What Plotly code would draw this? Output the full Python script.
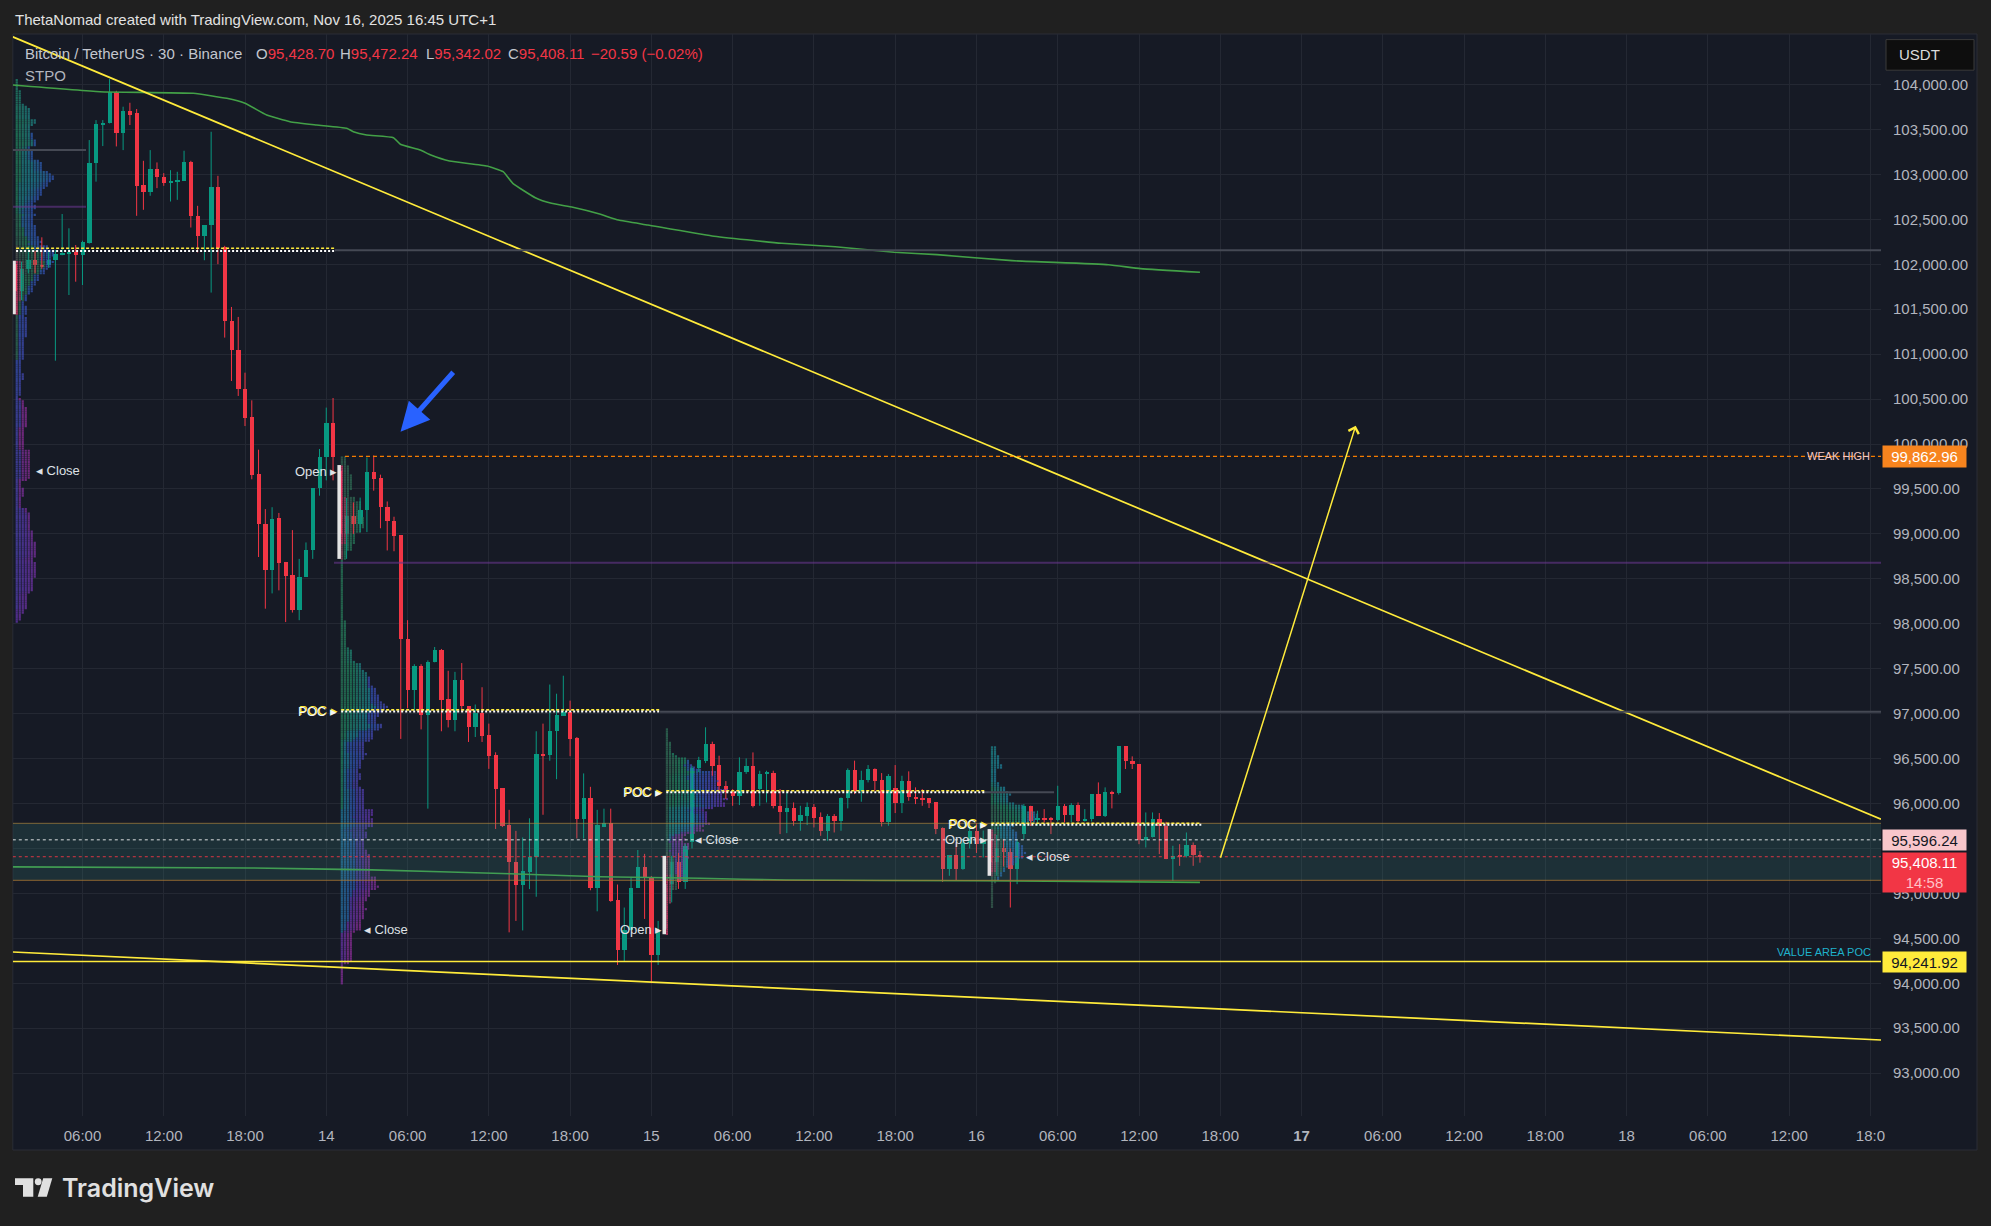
import math
import plotly.graph_objects as go

W, H = 1991, 1226

# ------------------------------------------------------------------ data
first_bar_hour = 1.0   # 13 Nov 01:00 (hours counted from 13 Nov 00:00, UTC+1)
bar_hours = 0.5        # 30-minute candles

opens = [102000, 101700, 101950, 102050, 101990, 101991, 102047, 102110, 102122, 102140,
         102103, 102240, 103123, 103560, 103567, 103912, 103456, 103708, 103680, 102884,
         102806, 103058, 102973, 102899, 102921, 102929, 103133, 102539, 102309, 102435,
         102855, 102194, 101370, 101043, 100609, 100300, 99668, 99114, 98594, 99178,
         98688, 98543, 98155, 98522, 98820, 99510, 99851, 100235, 99700, 99000,
         99200, 99106, 99268, 99689, 99617, 99297, 99140, 98986, 97827, 97264,
         97529, 96983, 97571, 97708, 97162, 96932, 97379, 97081, 96847, 97004,
         96761, 96535, 96173, 95760, 95355, 95091, 95240, 95410, 96548, 96540,
         96804, 96975, 97017, 96727, 95832, 96058, 95065, 95738, 95781, 94929,
         94366, 94588, 95065, 95291, 95184, 94311, 94600, 95100, 95350, 95122,
         95567, 96391, 96477, 96662, 96428, 96198, 96124, 96079, 96347, 96421,
         96161, 96331, 96339, 95968, 95909, 95946, 95808, 95864, 95957, 95845,
         95697, 95857, 95808, 96057, 96376, 96142, 96261, 96384, 96261, 95790,
         96168, 96005, 96254, 96075, 96064, 96057, 96012, 95723, 95270, 95426,
         95270, 95560, 95700, 95550, 95600, 95350, 95500, 95456, 95270, 95660,
         95975, 95827, 95830, 95834, 95819, 95975, 95871, 95983, 95808, 95827,
         96105, 95864, 96124, 96115, 96636, 96477, 96439, 95597, 95623, 95827,
         95753, 95381, 95426, 95411, 95537, 95428.70]
highs = [102038, 102030, 102200, 102150, 102300, 102136, 102159, 102559, 102400, 102214,
         102262, 103382, 103604, 103604, 104061, 103930, 103753, 103797, 103727, 103151,
         103270, 103133, 103014, 103047, 103029, 103263, 103151, 102650, 102435, 103474,
         102984, 102205, 101525, 101414, 100794, 100486, 99937, 99276, 99297, 99233,
         98688, 99042, 98722, 98905, 99510, 99945, 100405, 100512, 99766, 99400,
         99350, 99404, 99851, 99873, 99659, 99361, 99191, 98986, 98040, 97550,
         97550, 97593, 97742, 97720, 97477, 97465, 97563, 97081, 97102, 97294,
         96889, 96570, 96173, 95930, 95696, 95623, 95836, 96804, 96889, 97324,
         97222, 97422, 97145, 96740, 96335, 96186, 95930, 95943, 95943, 95099,
         94843, 95184, 95483, 95440, 95193, 94694, 95200, 95418, 95450, 95550,
         96420, 96520, 96848, 96688, 96532, 96250, 96161, 96514, 96502, 96569,
         96365, 96365, 96365, 96161, 96124, 96012, 95975, 96012, 95994, 95901,
         95883, 95883, 96068, 96391, 96477, 96365, 96428, 96391, 96339, 96328,
         96428, 96309, 96358, 96180, 96161, 96057, 96012, 95734, 95426, 95567,
         95605, 95750, 95780, 95700, 95716, 95650, 95600, 95500, 95600, 95994,
         95975, 95920, 95938, 95850, 96198, 95994, 96005, 96012, 95938, 96105,
         96235, 96180, 96142, 96636, 96636, 96525, 96439, 95901, 95901, 95894,
         95797, 95530, 95548, 95678, 95567, 95472.24]
lows = [101444, 101600, 101900, 101900, 101950, 101960, 100927, 102100, 101658, 101806,
        101769, 102230, 102919, 103315, 103567, 103311, 103270, 103549, 102539, 102606,
        102762, 102847, 102873, 102698, 102717, 102929, 102409, 102131, 102045, 101685,
        102001, 101184, 100701, 100535, 100200, 99608, 98743, 98168, 98338, 98372,
        98019, 98125, 98040, 98522, 98722, 99425, 99596, 99596, 98900, 98722,
        99000, 99020, 99020, 99481, 99063, 98816, 98807, 96719, 97060, 97038,
        96825, 95943, 97571, 96804, 96847, 96804, 97017, 96685, 96740, 96685,
        96386, 95717, 95738, 94567, 94694, 94588, 95048, 94963, 95875, 96476,
        96271, 96975, 96527, 95611, 95611, 95035, 94801, 95738, 94907, 94204,
        94247, 94588, 95065, 94716, 94000, 94204, 94546, 94900, 95050, 95050,
        95500, 96350, 96450, 96309, 96142, 96050, 95975, 95983, 96330, 95957,
        95975, 96012, 95946, 95660, 95671, 95753, 95697, 95760, 95734, 95641,
        95586, 95678, 95697, 95946, 96105, 96020, 96235, 96142, 95745, 95753,
        95894, 95894, 96031, 95994, 95975, 95950, 95660, 95129, 95196, 95140,
        95263, 95500, 95450, 95400, 95250, 95196, 95300, 94843, 95103, 95604,
        95750, 95753, 95790, 95660, 95800, 95790, 95790, 95790, 95800, 95800,
        95864, 95850, 95946, 96100, 96384, 96384, 95548, 95511, 95623, 95437,
        95381, 95140, 95307, 95400, 95307, 95342.02]
closes = [101700, 101950, 102050, 101990, 101975, 102047, 102110, 102122, 102130, 102103,
          102248, 103123, 103560, 103575, 103912, 103456, 103708, 103664, 102873, 102806,
          103058, 102966, 102899, 102929, 102943, 103133, 102532, 102309, 102435, 102855,
          102186, 101370, 101043, 100609, 100293, 99660, 99105, 98594, 99169, 98679,
          98530, 98155, 98522, 98820, 99510, 99851, 100235, 99851, 99000, 99200,
          99106, 99268, 99689, 99608, 99297, 99140, 98978, 97827, 97264, 97529,
          96983, 97571, 97708, 97153, 96932, 97379, 97081, 96847, 97004, 96753,
          96527, 96165, 95747, 95346, 95091, 95248, 95410, 96548, 96540, 96804,
          96983, 97017, 96719, 95832, 96058, 95065, 95760, 95781, 94920, 94366,
          94588, 95065, 95291, 95176, 94311, 94588, 95100, 95350, 95122, 95530,
          96391, 96484, 96662, 96421, 96198, 96124, 96079, 96347, 96421, 95968,
          96328, 96339, 95968, 95909, 95946, 95808, 95871, 95957, 95838, 95697,
          95857, 95808, 96057, 96376, 96142, 96261, 96384, 96254, 95790, 96309,
          96005, 96254, 96068, 96057, 96049, 96005, 95716, 95270, 95426, 95270,
          95560, 95700, 95550, 95600, 95350, 95500, 95456, 95270, 95567, 95975,
          95808, 95830, 95827, 95819, 95975, 95871, 95983, 95808, 95827, 96105,
          95864, 96124, 96115, 96636, 96477, 96439, 95597, 95623, 95827, 95753,
          95381, 95419, 95411, 95537, 95428.70, 95408.11]

# moving averages (hours, price)
ma_slow_hours = [0.86, 7.29, 14.18, 16.65, 18.0, 19.6, 21.32, 23.29, 25.51, 26.0, 26.98, 28.96,
                 29.47, 30.93, 31.72, 33.10, 35.87, 37.06, 37.77, 39.43, 40.62, 42.20, 44.18,
                 45.57, 47.74, 52.48, 57.62, 61.58, 65.93, 69.09, 74.63, 81.74, 84.12, 88.5]
ma_slow_price = [103994, 103920, 103902, 103846, 103791, 103661, 103586, 103549, 103513, 103475,
                 103438, 103408, 103335, 103271, 103216, 103149, 103093, 103030, 102901, 102741,
                 102678, 102634, 102559, 102492, 102437, 102315, 102233, 102195, 102133, 102107,
                 102040, 101995, 101951, 101911]
ma_fast_hours = [0.86, 18.37, 27.35, 37.56, 44.2, 51.59, 57.98, 71.75, 88.5]
ma_fast_price = [95295, 95283, 95262, 95219, 95186, 95168, 95149, 95141, 95123]

# STPO sessions
session_start_hours = [1, 25, 49, 73]
session_open_price = [None, 99691, 94601, 95602]
session_close_price = [99700, 94598, 95602, 95408.11]
session_poc_white = [102148, 97025, 96125, 95765]
session_poc_yellow = [102178, 97042, 96143, 95780]

# naked levels carried forward (price, from hour, to hour; None = chart edge)
naked_poc_price = [103271, 102157, 97022, 96125]
naked_poc_from = [None, 24.64, 48.64, 72.52]
naked_poc_to = [6.26, None, None, 77.73]
naked_va_price = [102640, 98680]
naked_va_from = [None, 24.57]
naked_va_to = [6.26, None]

value_area_high = 95780
value_area_low = 95146
value_area_poc = 94241.92
reference_level = 95596.24
weak_high = 99862.96
weak_high_from = 25.38
countdown = "14:58"

# drawings
trend_a_hours = [0.8564, 138.78]
trend_a_price = [104530, 95825]
trend_b_hours = [0.8564, 138.78]
trend_b_price = [94348, 93369]
arrow_up_from = (89.98, 95380)
arrow_up_to = (100.0, 100204)
arrow_blue_from = (33.47, 100815)
arrow_blue_to = (29.48, 100137)

# axes
time_tick_hours = [6, 12, 18, 24, 30, 36, 42, 48, 54, 60, 66, 72, 78, 84, 90, 96, 102, 108,
                   114, 120, 126, 132, 138]
time_tick_text = ["06:00", "12:00", "18:00", "14", "06:00", "12:00", "18:00", "15", "06:00",
                  "12:00", "18:00", "16", "06:00", "12:00", "18:00", "<b>17</b>", "06:00",
                  "12:00", "18:00", "18", "06:00", "12:00", "18:0"]
price_ticks = list(range(93000, 104001, 500))
x_range = [0.8564, 138.78]
y_range = [92523.6, 104561.9]

# ------------------------------------------------------------------ style
FONT = "Liberation Sans, Arial, sans-serif"
OUTER = "#202020"
PANE = "#161a25"
GRID = "#242833"
AXIS_TXT = "#b2b5be"
UP = "#089981"
DOWN = "#f23645"
YELLOW = "#ffeb3b"

plot_left, plot_right, plot_top, plot_bottom = 12.8, 1881, 34, 1116
pane_right, pane_bottom = 1977, 1150
px_per_hour = (plot_right - plot_left) / (x_range[1] - x_range[0])
px_per_usd = (plot_bottom - plot_top) / (y_range[1] - y_range[0])


def px(x):
    return x / W


def py(y):
    return 1 - y / H


def price_to_px(p):
    return plot_top + (y_range[1] - p) * px_per_usd


times = [first_bar_hour + i * bar_hours for i in range(len(opens))]

fig = go.Figure()

# ---------------------------------------------------------- TPO profiles
row_step = 25
col_px = 3.0
stops = [(0.00, (226, 64, 110)), (0.05, (58, 96, 82)), (0.25, (34, 136, 96)),
         (0.45, (30, 134, 152)), (0.65, (50, 86, 184)), (0.85, (98, 54, 174)),
         (1.00, (140, 46, 152))]


def grad(f):
    f = max(0.0, min(1.0, f))
    for (a, ca), (b, cb) in zip(stops, stops[1:]):
        if f <= b:
            u = (f - a) / (b - a)
            return tuple(int(ca[i] + (cb[i] - ca[i]) * u) for i in range(3))
    return stops[-1][1]


tx, ty, tc = [], [], []
for ts in session_start_hours:
    idx = [i for i, t in enumerate(times) if ts <= t < ts + 24]
    lo = min(lows[i] for i in idx)
    hi = max(highs[i] for i in idx)
    r = math.ceil(lo / row_step) * row_step
    while r <= hi:
        c = 0
        for i in idx:
            if lows[i] <= r <= highs[i]:
                j = (times[i] - ts) / bar_hours
                col = grad(j / 47)
                tx.append(ts + (2 + c * col_px) / px_per_hour)
                ty.append(r)
                tc.append("rgba(%d,%d,%d,0.74)" % col)
                c += 1
        r += row_step

fig.add_trace(go.Scatter(x=tx, y=ty, mode="markers", hoverinfo="skip",
                         marker=dict(symbol="square", size=2.2, color=tc, line=dict(width=0))))

# ---------------------------------------------------------------- candles
for color, cond in ((UP, lambda o, c: c >= o), (DOWN, lambda o, c: c < o)):
    wx, wy = [], []
    for t, o, h, l, c in zip(times, opens, highs, lows, closes):
        if cond(o, c):
            wx += [t, t, None]
            wy += [l, h, None]
    fig.add_trace(go.Scatter(x=wx, y=wy, mode="lines", hoverinfo="skip",
                             line=dict(color=color, width=1)))

min_body = 12
fig.add_trace(go.Bar(
    x=times,
    y=[max(abs(c - o), min_body) for o, c in zip(opens, closes)],
    base=[min(o, c) for o, c in zip(opens, closes)],
    width=4.3 / px_per_hour,
    marker=dict(color=[UP if c >= o else DOWN for o, c in zip(opens, closes)], line=dict(width=0)),
    hoverinfo="skip"))

# ------------------------------------------------------------ MA lines
fig.add_trace(go.Scatter(x=ma_slow_hours, y=ma_slow_price, mode="lines", hoverinfo="skip",
                         line=dict(color="#43a047", width=1.6, shape="spline", smoothing=0.4)))
fig.add_trace(go.Scatter(x=ma_fast_hours, y=ma_fast_price, mode="lines", hoverinfo="skip",
                         line=dict(color="#43a047", width=1.6, shape="spline", smoothing=0.4)))

# ---------------------------------------------------------- trend lines
fig.add_trace(go.Scatter(x=trend_a_hours, y=trend_a_price, mode="lines", hoverinfo="skip",
                         line=dict(color=YELLOW, width=1.7)))
fig.add_trace(go.Scatter(x=trend_b_hours, y=trend_b_price, mode="lines", hoverinfo="skip",
                         line=dict(color=YELLOW, width=1.7)))

# ------------------------------------------------------------------ shapes
shapes = []
# pane background
shapes.append(dict(type="rect", xref="paper", yref="paper", layer="below",
                   x0=px(plot_left), x1=px(pane_right), y0=py(pane_bottom), y1=py(plot_top),
                   fillcolor=PANE, line=dict(color="#2a2d36", width=1)))


def hline(price, x0, x1, color, width=1, dash="solid"):
    x0 = x_range[0] if x0 is None else x0
    x1 = x_range[1] if x1 is None else x1
    shapes.append(dict(type="line", xref="x", yref="y", x0=x0, x1=x1, y0=price, y1=price,
                       line=dict(color=color, width=width, dash=dash)))


for p, a, b in zip(naked_poc_price, naked_poc_from, naked_poc_to):
    hline(p, a, b, "#454954", 2)
for p, a, b in zip(naked_va_price, naked_va_from, naked_va_to):
    hline(p, a, b, "rgba(104,54,140,0.6)", 2)

# value area band
shapes.append(dict(type="rect", xref="x", yref="y", x0=x_range[0], x1=x_range[1],
                   y0=value_area_low, y1=value_area_high,
                   fillcolor="rgba(62,150,140,0.18)", line=dict(width=0)))
hline(value_area_high, None, None, "rgba(170,130,60,0.7)", 1)
hline(value_area_low, None, None, "rgba(170,120,50,0.8)", 1)
hline(reference_level, None, None, "rgba(255,255,255,0.85)", 1, "dot")
hline(closes[-1], None, None, "rgba(242,54,69,0.9)", 1, "dot")
hline(value_area_poc, None, None, YELLOW, 1.6)
hline(weak_high, weak_high_from, None, "#f57c00", 1.3, "4px,3px")

# session POC lines and opening-range markers
for s, ts in enumerate(session_start_hours):
    idx = [i for i, t in enumerate(times) if ts <= t < ts + 24]
    t_end = times[idx[-1]] + 0.1
    hline(session_poc_yellow[s], ts + 0.1, t_end, YELLOW, 1.6, "3px,2px")
    hline(session_poc_white[s], ts + 0.1, t_end, "#ffffff", 2, "2px,2px")
    first = idx[:2]
    shapes.append(dict(type="line", xref="x", yref="y", x0=ts - 0.05, x1=ts - 0.05,
                       y0=min(lows[i] for i in first), y1=max(highs[i] for i in first),
                       line=dict(color="#e4e4e4", width=3.5)))

# USDT box
shapes.append(dict(type="rect", xref="paper", yref="paper",
                   x0=px(1886), x1=px(1974), y0=py(70.2), y1=py(39.6),
                   fillcolor="#0e0e0e", line=dict(color="#3a3a3a", width=1)))


# TradingView logo glyph
def path(points):
    return "M " + " L ".join("%f,%f" % (px(x), py(y)) for x, y in points) + " Z"


shapes.append(dict(type="path", xref="paper", yref="paper", fillcolor="#e0e0e0", line=dict(width=0),
                   path=path([(15, 1178.3), (33.3, 1178.3), (33.3, 1196.7), (23, 1196.7),
                              (23, 1185), (15, 1185)])))
shapes.append(dict(type="circle", xref="paper", yref="paper", fillcolor="#e0e0e0", line=dict(width=0),
                   x0=px(34.8), x1=px(41.6), y0=py(1185.2), y1=py(1178.3)))
shapes.append(dict(type="path", xref="paper", yref="paper", fillcolor="#e0e0e0", line=dict(width=0),
                   path=path([(43.2, 1178.3), (52.3, 1178.3), (46.8, 1196.7), (37.7, 1196.7)])))

# ------------------------------------------------------------ annotations
ann = []


def note(text, x, y, size=15, color=AXIS_TXT, xanchor="left", yanchor="middle", **kw):
    d = dict(text=text, x=px(x), y=py(y), xref="paper", yref="paper", xanchor=xanchor,
             yanchor=yanchor, showarrow=False, font=dict(family=FONT, size=size, color=color))
    d.update(kw)
    return d


ann.append(note("ThetaNomad created with TradingView.com, Nov 16, 2025 16:45 UTC+1", 13, 20,
                size=15, color="#e2e2e2"))
ann.append(note("Bitcoin / TetherUS · 30 · Binance", 23, 53.3, color="#c3c6ce"))
ohlc_x = [253.6, 338, 423.5, 506]
for lx, (letter, val) in zip(ohlc_x, (("O", opens[-1]), ("H", highs[-1]),
                                      ("L", lows[-1]), ("C", closes[-1]))):
    ann.append(note("<span style='color:#c3c6ce'>%s</span>%s" % (letter, format(val, ",.2f")),
                    lx, 53.3, color=DOWN))
chg = closes[-1] - closes[-2]
pct = chg / closes[-2] * 100
ann.append(note(("%+.2f (%+.2f%%)" % (chg, pct)).replace("-", "\u2212"), 589, 53.3, color=DOWN))
ann.append(note("STPO", 23, 75, color="#b2b5be"))
ann.append(note("USDT", 1896.5, 55, color="#dcdcdc"))

# price tags on the axis (the stacked last-price tags hide the axis label behind them)
pink_top = price_to_px(reference_level) - 10
red_bottom = price_to_px(closes[-1]) - 5 + 39
price_tick_text = ["" if pink_top <= price_to_px(p) <= red_bottom else format(p, ",.2f")
                   for p in price_ticks]


def tag(text, price, bg, fg, height=21, yanchor="middle", yshift=0):
    ann.append(dict(text=text, x=px(1881.7), y=price, xref="paper", yref="y", xanchor="left",
                    yanchor=yanchor, yshift=yshift, showarrow=False, width=83, height=height,
                    borderpad=0, bgcolor=bg, align="center", valign="middle",
                    font=dict(family=FONT, size=15, color=fg)))


tag(format(weak_high, ",.2f"), weak_high, "#f7841e", "#ffffff")
tag(format(reference_level, ",.2f"), reference_level, "#f8c6cb", "#131722", height=20)
tag("%s<br><span style='color:#ffc2c7'>%s</span>" % (format(closes[-1], ",.2f"), countdown),
    closes[-1], DOWN, "#ffffff", height=39, yanchor="top", yshift=5)
tag(format(value_area_poc, ",.2f"), value_area_poc, YELLOW, "#131722", height=20)

ann.append(dict(text="WEAK HIGH", x=px(1872), y=weak_high, xref="paper", yref="y",
                xanchor="right", yanchor="middle", showarrow=False,
                font=dict(family=FONT, size=11, color="#f6c9c3")))
ann.append(dict(text="VALUE AREA POC", x=px(1873), y=value_area_poc, xref="paper", yref="y",
                xanchor="right", yanchor="bottom", yshift=2, showarrow=False,
                font=dict(family=FONT, size=11, color="#1fb2cc")))

# session labels
close_shift_px = [19, 22, 28, 34]
for s, ts in enumerate(session_start_hours):
    if session_open_price[s] is not None:
        ann.append(dict(text="Open \u25B8", x=ts, y=session_open_price[s], xref="x", yref="y",
                        xanchor="right", yanchor="middle", xshift=-1, showarrow=False,
                        font=dict(family=FONT, size=13, color="#dfe1e6")))
    ann.append(dict(text="\u25C2 Close", x=ts, y=session_close_price[s], xref="x", yref="y",
                    xanchor="left", yanchor="middle", xshift=close_shift_px[s], showarrow=False,
                    font=dict(family=FONT, size=13, color="#dfe1e6")))
    if s > 0:
        ann.append(dict(text="POC \u25B8", x=ts, y=session_poc_white[s], xref="x", yref="y",
                        xanchor="right", yanchor="middle", xshift=0, yshift=1, showarrow=False,
                        font=dict(family=FONT, size=13, color=YELLOW)))
        ann.append(dict(text="POC \u25B8", x=ts, y=session_poc_white[s], xref="x", yref="y",
                        xanchor="right", yanchor="middle", xshift=-1, showarrow=False,
                        font=dict(family=FONT, size=13, color="#f4f4f4")))

# arrows
ann.append(dict(x=arrow_blue_to[0], y=arrow_blue_to[1], ax=arrow_blue_from[0], ay=arrow_blue_from[1],
                xref="x", yref="y", axref="x", ayref="y", text="", showarrow=True,
                arrowhead=2, arrowsize=1.15, arrowwidth=5, arrowcolor="#2962ff", standoff=0))
ann.append(dict(x=arrow_up_to[0], y=arrow_up_to[1], ax=arrow_up_from[0], ay=arrow_up_from[1],
                xref="x", yref="y", axref="x", ayref="y", text="", showarrow=True,
                arrowhead=4, arrowsize=1.4, arrowwidth=1.5, arrowcolor=YELLOW, standoff=0))

# logo text
ann.append(dict(text="TradingView", x=px(60), y=py(1188), xref="paper", yref="paper",
                xanchor="left", yanchor="middle", showarrow=False,
                font=dict(family="Inter, Liberation Sans, sans-serif", size=25, color="#e0e0e0",
                          weight=600)))

# ------------------------------------------------------------------ layout
fig.update_layout(
    width=W, height=H, autosize=False,
    margin=dict(l=0, r=0, t=0, b=0, pad=0),
    paper_bgcolor=OUTER, plot_bgcolor=PANE,
    showlegend=False, barmode="overlay", bargap=0,
    font=dict(family=FONT, size=15, color=AXIS_TXT),
    shapes=shapes, annotations=ann,
    xaxis=dict(range=x_range, domain=[px(plot_left), px(plot_right)], tickmode="array",
               tickvals=time_tick_hours, ticktext=time_tick_text, showgrid=True, gridcolor=GRID,
               gridwidth=1, zeroline=False, showline=False, ticks="", automargin=False,
               ticklabelstandoff=9, tickfont=dict(family=FONT, size=15, color=AXIS_TXT),
               fixedrange=True),
    yaxis=dict(range=y_range, domain=[py(plot_bottom), py(plot_top)], side="right",
               tickmode="array", tickvals=price_ticks, ticktext=price_tick_text, showgrid=True,
               gridcolor=GRID, gridwidth=1, zeroline=False, showline=False, ticks="",
               automargin=False, ticklabelstandoff=11,
               tickfont=dict(family=FONT, size=15, color=AXIS_TXT), fixedrange=True),
)

fig.write_html("out.html", include_plotlyjs=True, full_html=True,
               config={"displayModeBar": False},
               post_script="document.body.style.margin='0';document.body.style.overflow='hidden';")
